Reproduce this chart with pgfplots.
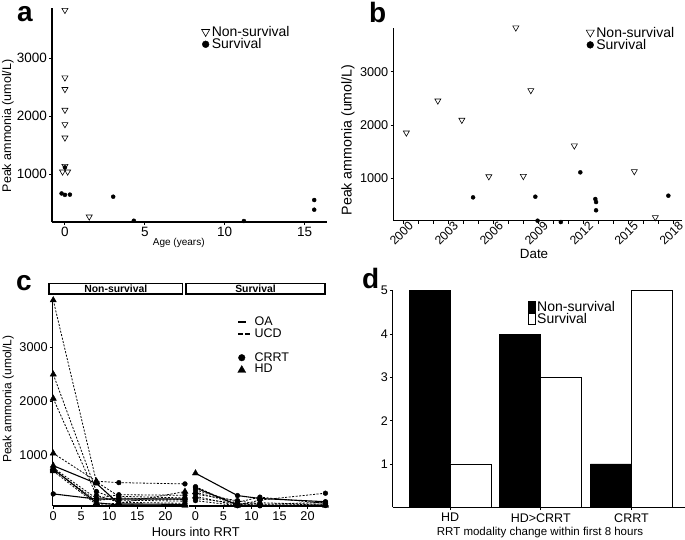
\documentclass[border=0pt]{standalone}
\usepackage{pgfplots}
\pgfplotsset{compat=1.18}
\usepackage{fontspec}
\setmainfont{Liberation Sans}
\newcommand{\fs}[1]{\fontsize{#1}{#1}\selectfont}
\tikzset{bb/.style={use as bounding box, draw=none, fill=none}}
\pgfplotsset{
  base/.style={
    scale only axis, anchor=south west, clip=false,
    axis lines*=left, axis line style={line width=1.5pt,-},
    tick align=outside, major tick length=2.8pt, minor tick length=2.8pt,
    tick style={line width=0.9pt, black},
    /pgf/number format/assume math mode=true,
    /pgf/number format/1000 sep={},
    scaled ticks=false,
    xticklabel style={inner sep=2.5pt},
    yticklabel style={inner sep=2pt},
  },
  ns/.style={only marks, mark=triangle, mark size=3.5pt, mark options={rotate=180, fill=white, line width=0.6pt, draw=black},
    legend image code/.code={\path[bb] (0pt,-2pt) rectangle (9.2pt,2pt);\draw[##1, mark size=4.6pt] plot coordinates {(4.6pt,0.8pt)};}},
  sv/.style={only marks, mark=*, mark size=2pt, black,
    legend image code/.code={\path[bb] (0pt,-2pt) rectangle (9.2pt,2pt);\draw[##1, mark size=3.4pt] plot coordinates {(4.6pt,0pt)};}},
  ucd/.style={black, line width=0.8pt, dash pattern=on 2pt off 1.5pt},
  oa/.style={black, line width=1.1pt},
  hdm/.style={only marks, mark=triangle*, mark size=3.6pt, black},
  crm/.style={only marks, mark=*, mark size=2.4pt, black},
  leg/.style={draw=none, fill=none, inner sep=0pt, outer sep=0pt, row sep=0pt, column sep=1.5pt, legend cell align=left, nodes={inner sep=0pt}},
  legOA/.style={black, line width=1.6pt, legend image code/.code={\path[bb] (0pt,-2pt) rectangle (13pt,2pt);\draw[##1] (0pt,0pt)--(8pt,0pt);}},
  legUCD/.style={black, line width=1.4pt, dash pattern=on 4.5pt off 2.5pt, legend image code/.code={\path[bb] (0pt,-2pt) rectangle (13pt,2pt);\draw[##1] (0pt,0pt)--(13pt,0pt);}},
  legCR/.style={only marks, mark=*, mark size=3.3pt, black, legend image code/.code={\path[bb] (0pt,-2pt) rectangle (13pt,2pt);\draw[##1] plot coordinates {(3.5pt,0pt)};}},
  legHD/.style={only marks, mark=triangle*, mark size=4.6pt, black, legend image code/.code={\path[bb] (0pt,-2pt) rectangle (13pt,2pt);\draw[##1] plot coordinates {(3.5pt,-0.9pt)};}},
  legBar/.style={legend image code/.code={\path[bb] (0pt,-2pt) rectangle (7pt,2pt);\draw[##1, line width=0.8pt] (0pt,-5.5pt) rectangle (7pt,5.5pt);}},
}
\begin{document}
\begin{tikzpicture}[x=1pt,y=1pt]
\useasboundingbox (0,0) rectangle (685,539);
% ---------------- panel a
\begin{axis}[base, at={(52pt,317pt)}, width=275pt, height=214pt,
  xmin=-0.81, xmax=16.4, ymin=178, ymax=3867,
  xtick={0,5,10,15}, ytick={1000,2000,3000},
  tick label style={font=\fs{13.5}},
  xlabel={Age (years)}, xlabel style={font=\fs{10}, at={(axis description cs:0.461,-0.098)}, anchor=center},
  ylabel={Peak ammonia (umol/L)}, ylabel style={font=\fs{12.5}, at={(axis description cs:-0.16,0.449)}, anchor=center},
  legend style={leg, font=\fs{14}, at={(axis description cs:0.542,0.912)}, anchor=north west}]
\addplot[ns] coordinates {(0,3830)(0,2666)(0,2466)(0,2109)(0,1862)(0,1631)(0,1140)(-0.15,1045)(0.17,1045)(1.52,269)};
\addlegendentry{Non-survival}
\addplot[sv] coordinates {(-0.21,670)(0,645)(0.31,650)(0,1120)(3.02,614)(4.31,200)(11.2,195)(15.6,557)(15.6,390)};
\addlegendentry{Survival}
\end{axis}
% ---------------- panel b
\begin{axis}[base, at={(393.3pt,318.3pt)}, width=288.4pt, height=192.7pt,
  xmin=1999.33, xmax=2018.56, ymin=205, ymax=3820,
  xtick={2000,2003,...,2018}, minor xtick={2001,2002,2004,2005,2007,2008,2010,2011,2013,2014,2016,2017},
  ytick={1000,2000,3000},
  tick label style={font=\fs{12.7}},
  xticklabel style={rotate=45, anchor=north east, xshift=6.5pt, inner sep=1pt, font=\fs{12.2}},
  xlabel={Date}, xlabel style={font=\fs{13.4}, at={(axis description cs:0.488,-0.173)}, anchor=center},
  ylabel={Peak ammonia (umol/L)}, ylabel style={font=\fs{14.2}, at={(axis description cs:-0.157,0.419)}, anchor=center},
  legend style={leg, font=\fs{14}, at={(axis description cs:0.667,1.003)}, anchor=north west}]
\addplot[ns] coordinates {(2000.2,1855)(2002.3,2456)(2003.9,2094)(2005.7,1035)(2007.5,3826)(2008.0,1040)(2008.5,2651)(2011.4,1612)(2015.4,1131)(2016.8,268)};
\addlegendentry{Non-survival}
\addplot[sv] coordinates {(2004.65,643)(2008.8,655)(2008.95,205)(2010.5,180)(2011.8,1112)(2012.8,612)(2012.85,555)(2012.85,400)(2017.67,674)};
\addlegendentry{Survival}
\end{axis}
% ---------------- panel c, left facet
\begin{axis}[base, at={(52.7pt,33pt)}, width=132.8pt, height=208pt,
  xmin=-0.1, xmax=23.6, ymin=50, ymax=3920,
  xtick={0,5,10,15,20}, ytick={1000,2000,3000},
  tick label style={font=\fs{12.7}},
  ylabel={Peak ammonia (umol/L)}, ylabel style={font=\fs{12}, at={(axis description cs:-0.334,0.514)}, anchor=center}]
\addplot[ucd] coordinates {(0,3880)(7.7,500)(11.7,230)(23.5,200)};
\addplot[ucd] coordinates {(0,2500)(7.7,320)(11.7,160)(23.5,140)};
\addplot[ucd] coordinates {(0,2050)(7.7,250)(11.7,120)(23.5,100)};
\addplot[ucd] coordinates {(0,1030)(7.7,510)(11.7,485)(23.5,461)};
\addplot[oa]  coordinates {(0,800)(7.7,470)(11.7,90)(23.5,80)};
\addplot[oa]  coordinates {(0,740)(7.7,110)(11.7,70)(23.5,60)};
\addplot[ucd] coordinates {(0,760)(7.7,190)(11.7,260)(23.5,250)};
\addplot[ucd] coordinates {(0,700)(7.7,80)(11.7,100)(23.5,318)};
\addplot[ucd] coordinates {(0,720)(7.7,150)(11.7,200)(23.5,170)};
\addplot[oa]  coordinates {(0,275)(7.7,180)(11.7,180)(23.5,180)};
\addplot[hdm] coordinates {(0,3880)(7.7,500)(0,2500)(0,2050)(0,1030)(7.7,510)(0,800)(7.7,470)(11.7,90)(23.5,80)(0,740)(7.7,110)(11.7,70)(23.5,60)(0,760)(0,700)(7.7,80)(11.7,100)(23.5,318)(0,720)};
\addplot[crm] coordinates {(11.7,230)(23.5,200)(7.7,320)(11.7,160)(23.5,140)(7.7,250)(11.7,120)(23.5,100)(11.7,485)(23.5,461)(7.7,190)(11.7,260)(23.5,250)(7.7,150)(11.7,200)(23.5,170)(0,275)(7.7,180)(11.7,180)(23.5,180)};
\end{axis}
% ---------------- panel c, right facet
\begin{axis}[base, at={(189pt,33pt)}, width=138pt, height=208pt,
  axis x line*=bottom, axis y line=none,
  xmin=-1.16, xmax=23.48, ymin=50, ymax=3920,
  xtick={0,5,10,15,20}, ytick=\empty,
  tick label style={font=\fs{12.7}},
  legend style={leg, font=\fs{12.5}, row sep=1.4pt, column sep=3.3pt, at={(axis description cs:0.357,0.908)}, anchor=north west}]
\addlegendimage{legOA}
\addlegendentry{OA}
\addlegendimage{legUCD}
\addlegendentry{UCD}
\addlegendimage{empty legend}
\addlegendentry{\rule{0pt}{9.3pt}}
\addlegendimage{legCR}
\addlegendentry{CRRT}
\addlegendimage{legHD}
\addlegendentry{HD}
\addplot[oa]  coordinates {(0,660)(7.5,244)(11.5,190)(23.2,130)};
\addplot[ucd] coordinates {(0,410)(7.5,60)(11.5,160)(23.2,288)};
\addplot[oa]  coordinates {(0,390)(7.5,70)(11.5,60)(23.2,60)};
\addplot[ucd] coordinates {(0,350)(7.5,120)(11.5,214)(23.2,100)};
\addplot[ucd] coordinates {(0,310)(7.5,90)(11.5,110)(23.2,80)};
\addplot[ucd] coordinates {(0,270)(7.5,150)(11.5,80)(23.2,120)};
\addplot[ucd] coordinates {(0,230)(7.5,60)(11.5,70)(23.2,60)};
\addplot[ucd] coordinates {(0,190)(7.5,100)(11.5,55)(23.2,90)};
\addplot[ucd] coordinates {(0,150)(7.5,55)(11.5,60)(23.2,70)};
\addplot[hdm] coordinates {(0,660)(11.5,190)(0,310)(7.5,90)(11.5,110)(23.2,80)(0,230)(7.5,60)(11.5,70)(23.2,60)};
\addplot[crm] coordinates {(7.5,244)(23.2,130)(0,410)(7.5,60)(11.5,160)(23.2,288)(0,390)(7.5,70)(11.5,60)(23.2,60)(0,350)(7.5,120)(11.5,214)(23.2,100)(0,270)(7.5,150)(11.5,80)(23.2,120)(0,190)(7.5,100)(11.5,55)(23.2,90)(0,150)(7.5,55)(11.5,60)(23.2,70)};
\end{axis}
% ---------------- panel d
\begin{axis}[base, at={(392.7pt,31.7pt)}, width=292.3pt, height=216.6pt,
  ybar, bar width=41pt,
  xmin=-0.632, xmax=2.59, ymin=0, ymax=5,
  xtick={0,1,2}, xticklabels={HD, HD>CRRT, CRRT}, ytick={1,2,3,4,5},
  tick label style={font=\fs{12.5}},
  xticklabel style={inner sep=3pt},
  xlabel={RRT modality change within first 8 hours}, xlabel style={font=\fs{11.5}, at={(axis description cs:0.504,-0.115)}, anchor=center},
  legend style={leg, font=\fs{14}, row sep=0.6pt, column sep=1.6pt, at={(axis description cs:0.465,0.951)}, anchor=north west}]
\addplot[legBar, fill=black, draw=black, line width=0.8pt, bar shift=-20.5pt] coordinates {(0,5)(1,4)(2,1)};
\addlegendentry{Non-survival}
\addplot[legBar, fill=white, draw=black, line width=0.8pt, bar shift=20.5pt] coordinates {(0,1)(1,3)(2,5)};
\addlegendentry{Survival}
\end{axis}
% ---------------- decorations
\draw[line width=1.3pt, fill=white] (49,245) rectangle (182.7,255.7);
\draw[line width=1.3pt, fill=white] (186,245) rectangle (325,255.7);
\node[font=\fs{10.4}\bfseries] at (115.85,250.3) {Non-survival};
\node[font=\fs{10.4}\bfseries] at (255.5,250.3) {Survival};
\node[font=\fs{12.8}] at (195.8,7.3) {Hours into RRT};
\node[anchor=base west, inner sep=0pt, font=\fs{28}\bfseries] at (17,517) {a};
\node[anchor=base west, inner sep=0pt, font=\fs{28}\bfseries] at (369,516) {b};
\node[anchor=base west, inner sep=0pt, font=\fs{28}\bfseries] at (16,249) {c};
\node[anchor=base west, inner sep=0pt, font=\fs{28}\bfseries] at (362,251) {d};
\end{tikzpicture}
\end{document}
